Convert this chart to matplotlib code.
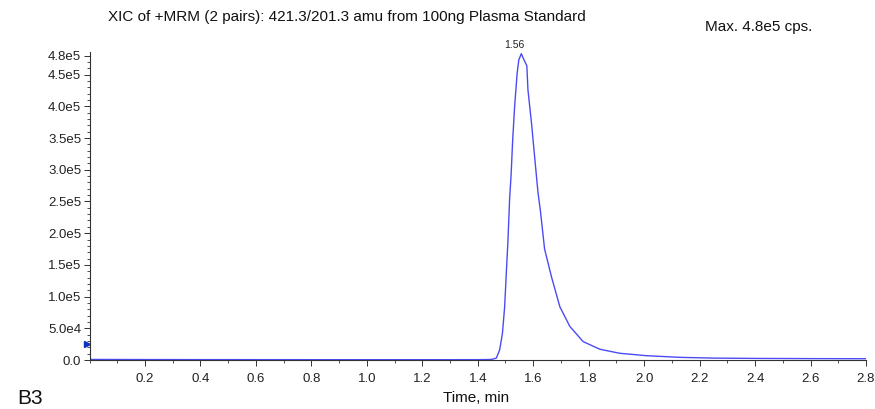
import matplotlib
matplotlib.use("Agg")
import matplotlib.pyplot as plt
import matplotlib.transforms as mtransforms
from matplotlib.ticker import MultipleLocator, FixedLocator

plt.rcParams['font.family'] = ['Liberation Sans', 'DejaVu Sans']

# Data (time in min, intensity in cps)
time_min = [0.00, 0.10, 0.20, 0.30, 0.40, 0.50, 0.60, 0.70, 0.80, 0.90, 1.00, 1.10,
            1.20, 1.30, 1.40, 1.449, 1.467, 1.479, 1.489, 1.497, 1.503, 1.509, 1.515,
            1.520, 1.526, 1.533, 1.542, 1.548, 1.557, 1.567, 1.577, 1.581, 1.594,
            1.605, 1.617, 1.626, 1.641, 1.666, 1.696, 1.732, 1.780, 1.840, 1.912,
            2.008, 2.128, 2.250, 2.400, 2.600, 2.800]
intensity = [900, 800, 700, 650, 600, 600, 550, 550, 500, 500, 500, 500,
             500, 500, 550, 800, 3000, 16000, 42000, 84000, 137000, 189000, 255000,
             290000, 347000, 400000, 452000, 473000, 483000, 473000, 464000, 426000, 373000,
             321000, 265000, 235000, 175000, 131000, 84000, 53000, 29000, 17000, 10600,
             6800, 4200, 3000, 2500, 2200, 2000]

y_ticks = [0, 5.0e4, 1.0e5, 1.5e5, 2.0e5, 2.5e5, 3.0e5, 3.5e5, 4.0e5, 4.5e5, 4.8e5]
y_labels = ['0.0', '5.0e4', '1.0e5', '1.5e5', '2.0e5', '2.5e5', '3.0e5', '3.5e5',
            '4.0e5', '4.5e5', '4.8e5']
x_ticks = [0.2, 0.4, 0.6, 0.8, 1.0, 1.2, 1.4, 1.6, 1.8, 2.0, 2.2, 2.4, 2.6, 2.8]
peak_time = 1.557
peak_value = 483000
peak_label = '1.56'
marker_level = 25000

fig = plt.figure(figsize=(8.75, 4.09), dpi=100)
ax = fig.add_axes([0.1023, 0.1198, 0.8874, 0.752])

line_color = '#4b4bf5'
ax.plot(time_min, intensity, color=line_color, lw=1.0)
mark_tr = mtransforms.offset_copy(ax.transData, fig=fig, x=-3, y=0, units='dots')
ax.plot([0], [marker_level], marker='>', color='#1030c0', markersize=5,
        clip_on=False, linestyle='none', transform=mark_tr)

ax.set_xlim(0, 2.8)
ax.set_ylim(0, 4.85e5)

ax.yaxis.set_major_locator(FixedLocator(y_ticks))
ax.set_yticklabels(y_labels)
ax.yaxis.set_minor_locator(MultipleLocator(1e4))
ax.xaxis.set_major_locator(FixedLocator(x_ticks))
ax.set_xticklabels([f'{v:.1f}' for v in x_ticks])
ax.xaxis.set_minor_locator(MultipleLocator(0.1))

for s in ['top', 'right']:
    ax.spines[s].set_visible(False)
for s in ['left', 'bottom']:
    ax.spines[s].set_color('#333333')
    ax.spines[s].set_linewidth(0.8)

ax.tick_params(axis='both', which='major', labelsize=9.5, colors='#333333',
               length=4, width=0.7, labelcolor='#222222')
ax.tick_params(axis='both', which='minor', length=2, width=0.6, colors='#333333')
ax.tick_params(axis='x', pad=5)
ax.tick_params(axis='y', pad=2)

ax.annotate(peak_label, xy=(peak_time, peak_value), xytext=(-5, 3),
            textcoords='offset points', ha='center', va='bottom',
            fontsize=7.5, color='#222222')

fig.text(0.123, 0.9487, 'XIC of +MRM (2 pairs): 421.3/201.3 amu from 100ng Plasma Standard',
         fontsize=11, ha='left', va='baseline', color='#111111')
fig.text(0.806, 0.924, 'Max. 4.8e5 cps.', fontsize=11, ha='left', va='baseline',
         color='#111111')
fig.text(0.02, 0.013, 'B3', fontsize=15, ha='left', va='baseline', color='#111111')
fig.text(0.544, 0.017, 'Time, min', fontsize=11, ha='center', va='baseline',
         color='#111111')

fig.savefig('out.png', dpi=100)
